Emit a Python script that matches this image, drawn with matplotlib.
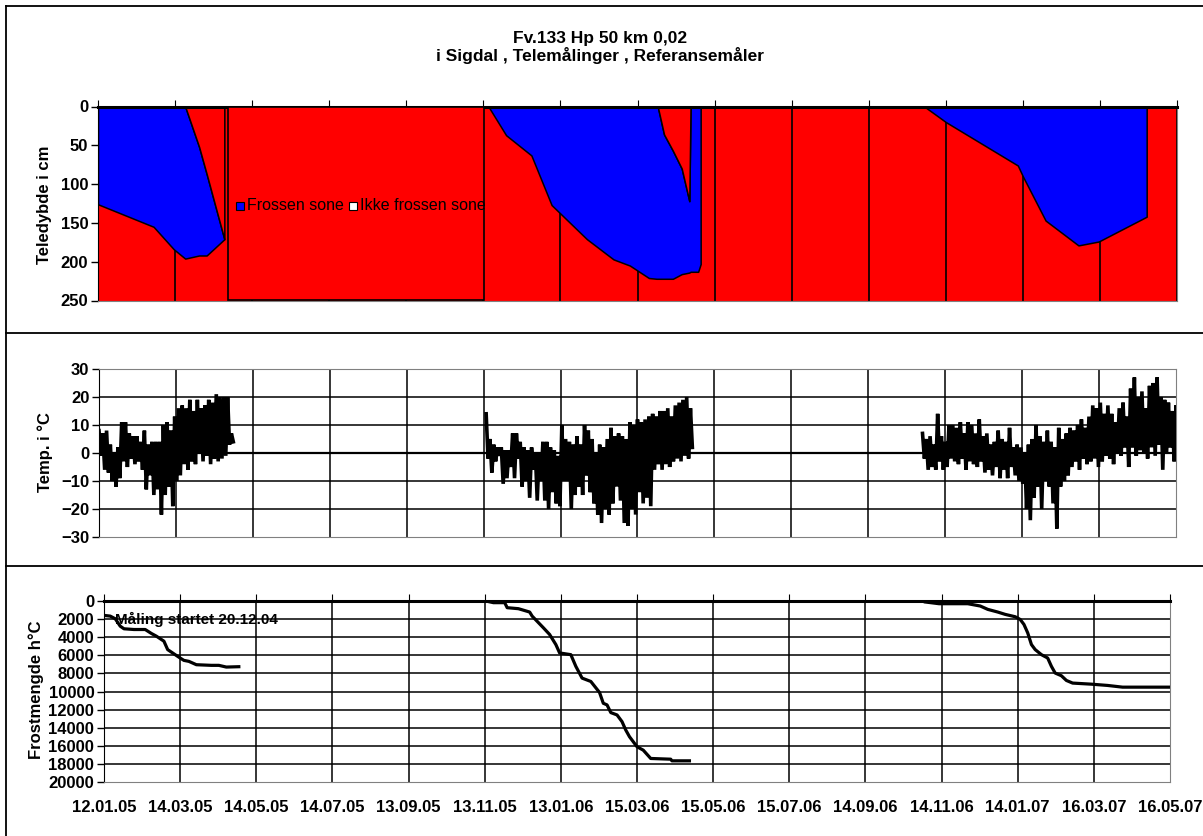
import matplotlib
matplotlib.use("Agg")
import matplotlib.pyplot as plt
from matplotlib.lines import Line2D
from matplotlib.patches import Rectangle
import numpy as np
import pandas as pd

plt.rcParams['font.family'] = ['Liberation Sans', 'DejaVu Sans']

# ---------------- data ----------------
tick_labels = ["12.01.05", "14.03.05", "14.05.05", "14.07.05", "13.09.05",
               "13.11.05", "13.01.06", "15.03.06", "15.05.06", "15.07.06",
               "14.09.06", "14.11.06", "14.01.07", "16.03.07", "16.05.07"]

# frost penetration: thaw depth from surface and frost depth (cm)
depth_dates_1 = ["2005-01-12", "2005-02-25", "2005-03-13", "2005-03-22",
                 "2005-04-02", "2005-04-08", "2005-04-22"]
thaw_1 = [0, 0, 0, 0, 52, 87, 171]
frost_1 = [126, 155, 184, 196, 192, 192, 171]

depth_dates_2 = ["2005-11-17", "2005-12-01", "2005-12-21", "2006-01-06",
                 "2006-02-03", "2006-02-24", "2006-03-09", "2006-03-24",
                 "2006-03-30", "2006-03-31", "2006-04-05", "2006-04-12",
                 "2006-04-19", "2006-04-25", "2006-04-26", "2006-05-02",
                 "2006-05-04"]
thaw_2 = [0, 0, 0, 0, 0, 0, 0, 0, 0, 0, 36, 57, 80, 122, 0, 0, 0]
frost_2 = [0, 37, 63, 127, 171, 197, 205, 221, 222, 222, 222, 222, 216,
           214, 213, 213, 203]

depth_dates_3 = ["2006-10-28", "2006-11-14", "2007-01-10", "2007-01-14",
                 "2007-02-01", "2007-02-27", "2007-03-15", "2007-04-22"]
thaw_3 = [0, 0, 0, 0, 0, 0, 0, 0]
frost_3 = [0, 20, 76, 90, 147, 179, 174, 142]

# air temperature, daily high / low every third day (deg C)
temp_start_1 = "2005-01-12"
temp_high_1 = [8, 7, 8, 3, 0, 2, 11, 11, 7, 6, 6, 4, 8, 3, 4, 4, 4, 10,
               11, 8, 13, 16, 17, 16, 19, 15, 19, 16, 17, 19, 18, 21, 20, 20, 20, 7]
temp_low_1 = [-1, -6, -7, -10, -12, -9, -3, -5, -2, -4, -3, -6, -13, -8, -15, -13, -22, -15,
              -12, -19, -10, -8, -4, -6, -3, -4, 0, -3, -1, -4, -2, -3, -2, -1, 3, 4]

temp_start_2 = "2005-11-15"
temp_high_2 = [14, 5, 3, 2, 2, 1, 1, 7, 7, 4, 2, 1, 2, 0, 0, 4, 4, 2, 1, -1,
               10, 5, 4, 3, 6, 3, 10, 8, 5, 0, 3,
               2, 5, 9, 6, 7, 6, 5, 11, 10, 12, 11, 12, 13, 14, 13, 15, 15, 16,
               13, 17, 18, 19, 20, 16]
temp_low_2 = [-2, -7, -3, -1, -11, -9, -5, -9, -2, -12, -10, -16, -6, -17, -10, -17,
              -20, -14, -18, -19, -10, -10, -20, -15, -12, -15, -8, -14, -18, -22, -25,
              -20, -22, -18, -12, -17, -25, -26, -20, -22, -14, -18, -16, -19, -6, -4,
              -6, -4, -5, -3, -2, -3, -1, -2, 2]

temp_start_3 = "2006-10-27"
temp_high_3 = [7, 5, 6, 3, 14, 6, 4, 10, 10, 9, 11, 7, 11, 10, 7, 12, 6, 7, 3, 4,
               8, 5, 4, 9, 2, 3, 2, 0, 3, 5, 10, 6, 4, 8, 4, 2, 9, 5, 7, 9,
               8, 10, 12, 9, 13, 17, 16, 18, 14, 17, 14, 11, 16, 18, 13, 23, 27, 20,
               22, 16, 24, 25, 27, 20, 19, 18, 15, 17]
temp_low_3 = [-2, -6, -5, -6, -3, -6, -5, -2, -3, -4, -2, -6, -3, -4, -5, -3, -7, -6,
              -8, -5, -9, -6, -9, -5, -8, -10, -11, -20, -24, -16, -12, -20, -10, -12,
              -18, -27, -12, -10, -8, -5, -3, -6, -2, -4, -3, -2, -5, -3, -1, -2, -4,
              0, -1, 2, -5, 2, -1, 1, 0, -2, 2, -1, 3, -6, 0, 2, -3, 2]

# accumulated frost amount (h deg C)
fi_dates_1 = ["2005-01-12", "2005-01-17", "2005-01-21", "2005-01-25", "2005-01-28",
              "2005-02-05", "2005-02-14", "2005-02-19", "2005-02-23", "2005-03-01",
              "2005-03-04", "2005-03-10", "2005-03-14", "2005-03-17", "2005-03-21",
              "2005-03-27", "2005-04-08", "2005-04-14", "2005-04-20", "2005-04-30"]
fi_1 = [1590, 1670, 1960, 2780, 3070, 3150, 3150, 3590, 3890, 4440,
        5370, 5930, 6300, 6560, 6670, 7040, 7110, 7110, 7300, 7260]

fi_dates_2 = ["2005-11-14", "2005-11-20", "2005-11-29", "2005-12-01", "2005-12-10",
              "2005-12-19", "2005-12-21", "2005-12-30", "2006-01-04", "2006-01-09",
              "2006-01-12", "2006-01-21", "2006-01-25", "2006-01-30", "2006-02-06",
              "2006-02-13", "2006-02-16", "2006-02-19", "2006-02-22", "2006-02-27",
              "2006-03-03", "2006-03-06", "2006-03-09", "2006-03-15", "2006-03-20",
              "2006-03-26", "2006-04-11", "2006-04-12", "2006-04-26"]
fi_2 = [0, 185, 185, 740, 850, 1220, 1670, 2960, 3700, 4815,
        5740, 5930, 7220, 8520, 8890, 10110, 11300, 11480, 12330, 12590,
        13330, 14260, 15000, 16100, 16480, 17400, 17480, 17660, 17660]

fi_dates_3 = ["2006-11-01", "2006-11-12", "2006-12-05", "2006-12-15", "2006-12-21",
              "2006-12-29", "2007-01-04", "2007-01-12", "2007-01-16", "2007-01-19",
              "2007-01-22", "2007-01-25", "2007-01-28", "2007-02-02", "2007-02-07",
              "2007-02-10", "2007-02-13", "2007-02-18", "2007-02-22", "2007-02-27",
              "2007-03-14", "2007-03-27", "2007-04-08", "2007-05-16"]
fi_3 = [110, 300, 300, 555, 925, 1220, 1480, 1740, 2040, 2590,
        3520, 4815, 5370, 5930, 6300, 7220, 7960, 8260, 8780, 9070,
        9190, 9330, 9520, 9520]

# ---------------- layout helpers ----------------
W, H = 1203, 836
fig = plt.figure(figsize=(W / 100, H / 100), dpi=100)


def px_axes(x0, y0, x1, y1):
    return fig.add_axes([x0 / W, 1 - y1 / H, (x1 - x0) / W, (y1 - y0) / H])


def fig_line(x0, y0, x1, y1, lw=1.3):
    fig.add_artist(Line2D([x0 / W, x1 / W], [1 - y0 / H, 1 - y1 / H],
                          transform=fig.transFigure, color="black", lw=lw))


ticks = pd.to_datetime(tick_labels, format="%d.%m.%y")
x_start, x_end = ticks[0], ticks[-1]
RED, BLUE, GRAY = "#FF0000", "#0000FF", "#808080"
FS = 12
LBL = dict(fontsize=FS, fontweight="bold")

# outer frame and panel separators
fig_line(6, 6, 6, H)
fig_line(6, 6, W, 6)
fig_line(6, 332.5, W, 332.5)
fig_line(6, 566, W, 566)

fig.text(600 / W, 1 - 39 / H, "Fv.133 Hp 50 km 0,02", ha="center", va="center",
         fontsize=12.5, fontweight="bold")
fig.text(600 / W, 1 - 56 / H, "i Sigdal , Telemålinger , Referansemåler",
         ha="center", va="center", fontsize=12.5, fontweight="bold")


def style_axes(ax):
    for s in ("right", "bottom"):
        ax.spines[s].set_color(GRAY)
    ax.spines["left"].set_color("black")
    ax.tick_params(axis="y", labelsize=FS, length=5, width=1, pad=2)
    for t in ax.get_yticklabels():
        t.set_fontweight("bold")


# ---------------- panel 1: frost depth ----------------
ax1 = px_axes(98, 106.5, 1177, 300.5)
ax1.set_xlim(x_start, x_end)
ax1.set_ylim(250, 0)
ax1.set_facecolor(RED)
for t in ticks:
    ax1.axvline(t, color="black", lw=1.2, zorder=1)
for dd, th, fr in ((depth_dates_1, thaw_1, frost_1),
                   (depth_dates_2, thaw_2, frost_2),
                   (depth_dates_3, thaw_3, frost_3)):
    d = pd.to_datetime(dd)
    ax1.fill_between(d, th, fr, facecolor=BLUE, edgecolor="black", lw=1.1, zorder=2)
    ax1.fill_between(d, 0, th, facecolor=RED, edgecolor="black", lw=1.1, zorder=2)
ax1.set_yticks([0, 50, 100, 150, 200, 250])
ax1.set_xticks(ticks)
ax1.xaxis.set_ticks_position("top")
ax1.tick_params(axis="x", direction="out", length=5, labeltop=False, labelbottom=False)
ax1.spines["top"].set_linewidth(2.2)
style_axes(ax1)


def a1(px, py):
    return ((px - 98) / 1079, 1 - (py - 106.5) / 194)


# legend box
lx0, ly0 = a1(228, 300)
lx1, ly1 = a1(484, 107)
ax1.add_patch(Rectangle((lx0, ly0), lx1 - lx0, ly1 - ly0, transform=ax1.transAxes,
                        facecolor=RED, edgecolor="black", lw=1.2, zorder=5))
sx, sy = a1(236, 210)
sx2, sy2 = a1(244, 202)
ax1.add_patch(Rectangle((sx, sy), sx2 - sx, sy2 - sy, transform=ax1.transAxes,
                        facecolor=BLUE, edgecolor="black", lw=0.8, zorder=6))
tx, ty = a1(247, 206)
ax1.text(tx, ty, "Frossen sone", transform=ax1.transAxes, fontsize=11.5,
         va="center", ha="left", zorder=6)
sx, sy = a1(349, 210)
sx2, sy2 = a1(357, 202)
ax1.add_patch(Rectangle((sx, sy), sx2 - sx, sy2 - sy, transform=ax1.transAxes,
                        facecolor="white", edgecolor="black", lw=0.8, zorder=6))
tx, ty = a1(360, 206)
ax1.text(tx, ty, "Ikke frossen sone", transform=ax1.transAxes, fontsize=11.5,
         va="center", ha="left", zorder=6)

fig.text(45 / W, 1 - 205 / H, "Teledybde i cm", rotation=90, ha="center",
         va="center", **LBL)

# ---------------- panel 2: temperature ----------------
ax2 = px_axes(99, 369, 1176, 537)
ax2.set_xlim(x_start, x_end)
ax2.set_ylim(-30, 30)
ax2.set_yticks(range(-30, 31, 10))
for v in range(-20, 30, 10):
    ax2.axhline(v, color="black", lw=1.1, zorder=1)
for t in ticks[1:-1]:
    ax2.axvline(t, color="black", lw=1.1, zorder=1)
ax2.axhline(0, color="black", lw=1.6, zorder=1)
for start, hi, lo in ((temp_start_1, temp_high_1, temp_low_1),
                      (temp_start_2, temp_high_2, temp_low_2),
                      (temp_start_3, temp_high_3, temp_low_3)):
    n = len(hi)
    t_hi = pd.Timestamp(start) + pd.to_timedelta(np.arange(n) * 3.0, unit="D")
    t_lo = t_hi + pd.Timedelta(hours=36)
    tt = np.empty(2 * n, dtype="datetime64[ns]")
    vv = np.empty(2 * n)
    tt[0::2], tt[1::2] = t_hi.values, t_lo.values
    vv[0::2], vv[1::2] = hi, lo
    ax2.plot(tt, vv, color="black", lw=2.6, zorder=3, solid_joinstyle="miter")
ax2.set_xticks(ticks)
ax2.tick_params(axis="x", length=0, labelbottom=False)
ax2.spines["top"].set_color(GRAY)
style_axes(ax2)
fig.text(45 / W, 1 - 452 / H, "Temp. i °C", rotation=90, ha="center",
         va="center", **LBL)

# ---------------- panel 3: frost amount ----------------
ax3 = px_axes(104, 601, 1170, 782)
ax3.set_xlim(x_start, x_end)
ax3.set_ylim(20000, 0)
ax3.set_yticks(range(0, 20001, 2000))
for v in range(2000, 20000, 2000):
    ax3.axhline(v, color="black", lw=1.1, zorder=1)
for t in ticks[1:-1]:
    ax3.axvline(t, color="black", lw=1.1, zorder=1)
for dd, fi in ((fi_dates_1, fi_1), (fi_dates_2, fi_2), (fi_dates_3, fi_3)):
    ax3.plot(pd.to_datetime(dd), fi, color="black", lw=2.3, zorder=3)
ax3.set_xticks(ticks)
ax3.set_xticklabels(tick_labels)
ax3.tick_params(axis="x", top=True, bottom=False, direction="out", length=5,
                labelsize=FS, pad=8)
for t in ax3.get_xticklabels():
    t.set_fontweight("bold")
ax3.spines["top"].set_linewidth(2.2)
style_axes(ax3)
ax3.text(pd.Timestamp("2005-01-21"), 2000, "Måling startet 20.12.04", fontsize=11,
         fontweight="bold", va="center", ha="left", zorder=4)
fig.text(36 / W, 1 - 690 / H, "Frostmengde h°C", rotation=90, ha="center",
         va="center", **LBL)

fig.savefig("out.png", dpi=100)
